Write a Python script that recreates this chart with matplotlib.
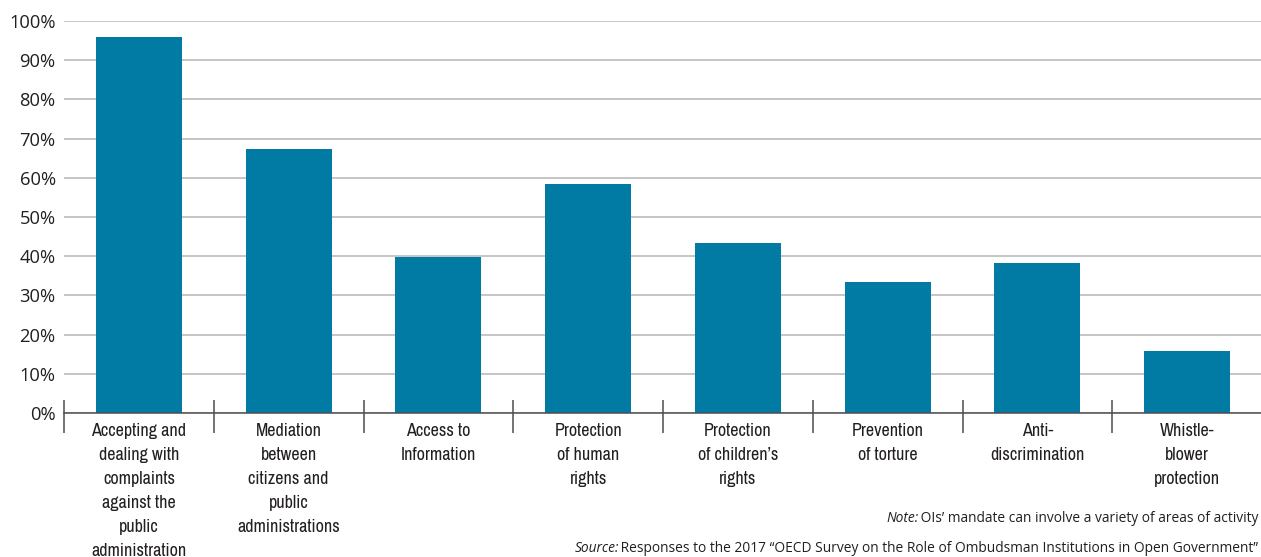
import matplotlib
matplotlib.use("Agg")
import matplotlib.pyplot as plt
from matplotlib import font_manager
import matplotlib.transforms as mtransforms

categories = [
    "Accepting and\ndealing with\ncomplaints\nagainst the\npublic\nadministration",
    "Mediation\nbetween\ncitizens and\npublic\nadministrations",
    "Access to\nInformation",
    "Protection\nof human\nrights",
    "Protection\nof children\u2019s\nrights",
    "Prevention\nof torture",
    "Anti-\ndiscrimination",
    "Whistle-\nblower\nprotection",
]
values = [95.9, 67.3, 39.7, 58.3, 43.3, 33.4, 38.3, 15.7]
yticks = [0, 10, 20, 30, 40, 50, 60, 70, 80, 90, 100]
ytick_labels = [f"{v}%" for v in yticks]

note_label = "Note:"
note_text = " OIs\u2019 mandate can involve a variety of areas of activity"
source_label = "Source:"
source_text = " Responses to the 2017 \u201cOECD Survey on the Role of Ombudsman Institutions in Open Government\u201d"

# choose a condensed font for category labels if one is installed
narrow_prop = None
for f in font_manager.fontManager.ttflist:
    if ("Narrow" in f.name or "Condensed" in f.name) and f.weight in (400, "normal", "regular") and f.style == "normal":
        narrow_prop = font_manager.FontProperties(fname=f.fname)
        break
if narrow_prop is None:
    for f in font_manager.fontManager.ttflist:
        st = str(f.stretch)
        if ("condensed" in st or st in ("75", "62", "87")) and f.style == "normal" and f.weight in (400, "normal", "regular"):
            narrow_prop = font_manager.FontProperties(fname=f.fname)
            break
available = {f.name for f in font_manager.fontManager.ttflist}
regular = "Open Sans" if "Open Sans" in available else "DejaVu Sans"
if narrow_prop is None:
    narrow_prop = font_manager.FontProperties(family="Roboto")
    narrow_size = 11.5
else:
    narrow_size = 13

BAR = "#027ba4"
TXT = "#231f20"
GRID = "#b5b5b5"

W, H = 1261, 557
fig = plt.figure(figsize=(W / 100, H / 100), dpi=100)
ax = fig.add_axes([64 / W, (H - 413) / H, (1262 - 64) / W, (413 - 21) / H])

x = list(range(len(categories)))
ax.bar(x, values, width=0.575, color=BAR, zorder=3)

ax.set_xlim(-0.5, len(categories) - 0.5)
ax.set_ylim(0, 100)
ax.tick_params(axis="y", length=0, pad=6)
ax.set_yticks(yticks)
ax.set_yticklabels(ytick_labels, fontfamily=regular, fontsize=13.2, color=TXT)
ax.grid(axis="y", color=GRID, linewidth=1.1, zorder=0)
ax.set_axisbelow(True)

ax.set_xticks([])
trans = mtransforms.blended_transform_factory(ax.transData, ax.transAxes)
for xi, lab in zip(x, categories):
    t = ax.text(xi, -10 / 392, lab, transform=trans, ha="center", va="top",
                color=TXT, linespacing=1.62, clip_on=False)
    t.set_fontproperties(narrow_prop)
    t.set_fontsize(narrow_size)

for side in ["left", "right", "top"]:
    ax.spines[side].set_visible(False)
ax.spines["bottom"].set_color("#4d4d4d")
ax.spines["bottom"].set_linewidth(1.1)
ax.spines["bottom"].set_zorder(4)

# category separator ticks
bounds = [i - 0.5 for i in range(len(categories) + 1)]
ax.vlines(bounds, -20 / 392, 13 / 392, transform=trans, color="#4d4d4d",
          linewidth=1.1, clip_on=False, zorder=4)

# notes
FS = 9.9
t1 = fig.text(1258 / W, 1 - 519 / H, note_text, ha="right", va="center",
              fontfamily=regular, fontsize=FS, color=TXT)
fig.canvas.draw()
bb = t1.get_window_extent()
fig.text((bb.x0 + 2) / W, 1 - 519 / H, note_label, ha="right", va="center",
         fontfamily=regular, fontsize=FS, style="italic", color=TXT)
t2 = fig.text(1258 / W, 1 - 549 / H, source_text, ha="right", va="center",
              fontfamily=regular, fontsize=FS, color=TXT)
fig.canvas.draw()
bb2 = t2.get_window_extent()
fig.text((bb2.x0 + 2) / W, 1 - 549 / H, source_label, ha="right", va="center",
         fontfamily=regular, fontsize=FS, style="italic", color=TXT)

fig.savefig("out.png", dpi=100)
